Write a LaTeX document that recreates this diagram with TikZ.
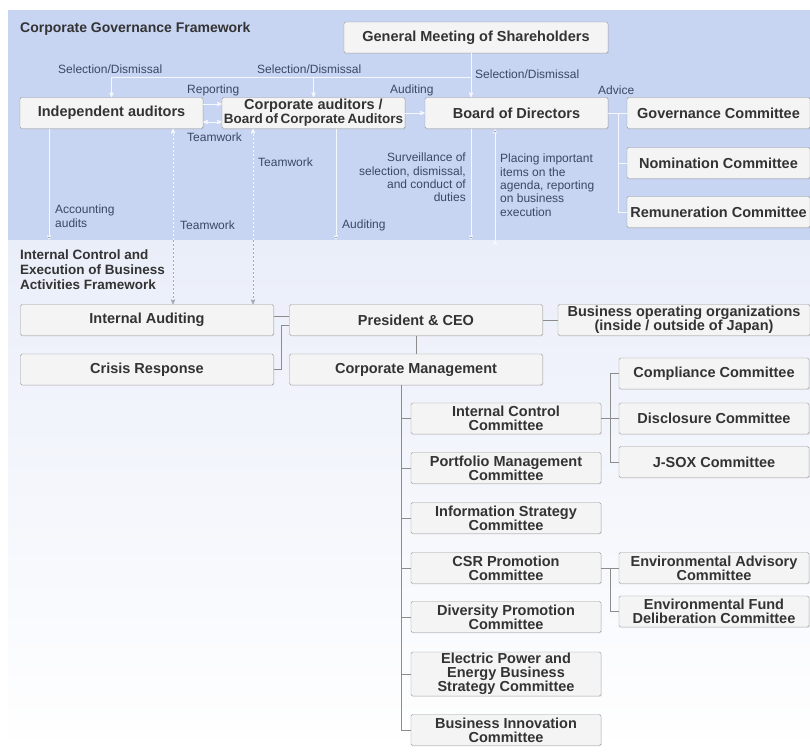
\documentclass[tikz,border=0pt]{standalone}
\usepackage{fontspec}
\setmainfont{Liberation Sans}
\usepackage{tikz}
\usetikzlibrary{positioning,arrows,shadows}

\definecolor{govblue}{HTML}{C7D4F2}
\definecolor{ctrlblue}{HTML}{EAEEF9}
\definecolor{boxfill}{HTML}{F4F4F4}
\definecolor{boxedge}{HTML}{9A9A9A}
\definecolor{boxtext}{HTML}{333333}
\definecolor{lbltext}{HTML}{3A4868}
\definecolor{arrowwhite}{HTML}{F5F8FF}
\definecolor{linkgray}{HTML}{8C8C8C}
\definecolor{dashgray}{HTML}{A4A9B4}

\begin{document}
\begin{tikzpicture}[x=1pt,y=-1pt,>=stealth',
  box/.style={draw=boxedge,fill=boxfill,rounded corners=1.5pt,text=boxtext,
    font=\fontsize{14.5}{14}\selectfont\bfseries,align=center,
    minimum height=31pt,inner sep=1pt,
    drop shadow={opacity=0.18,shadow xshift=0.8pt,shadow yshift=-0.8pt}},
  topbox/.style={box,minimum width=183pt},
  ctrlbox/.style={box,minimum width=253pt},
  cbox/.style={box,minimum width=190pt,font=\fontsize{14.5}{14}\selectfont\bfseries},
  lbl/.style={text=lbltext,font=\fontsize{12}{13.3}\selectfont,inner sep=0pt},
  title/.style={text=boxtext,font=\fontsize{14}{15}\selectfont\bfseries,inner sep=0pt,align=left},
  arrowline/.style={draw=arrowwhite,line width=0.8pt},
  dashline/.style={draw=arrowwhite,line width=0.8pt,dash pattern=on 2pt off 2pt},
  linkline/.style={draw=linkgray,line width=0.6pt}]

    % Backgrounds
    \useasboundingbox (0,0) rectangle (810,753);
    \fill[govblue] (8,10) rectangle (810,240);
    \shade[top color=ctrlblue,bottom color=white] (8,240) rectangle (810,753);

    % Corporate governance framework
    \node [title,anchor=west] at (20,29) (govtitle) {Corporate Governance Framework};
    \node [box,minimum width=264pt] at (476,37.5) (gms) {General Meeting of Shareholders};
    \node [topbox] at (111.5,113) (ind) {Independent auditors};
    \node [topbox] at (313.5,113) (corp) {Corporate auditors /\\{\fontsize{13.5}{12}\selectfont\spaceskip=2.5pt Board of Corporate Auditors}};
    \node [topbox] at (516.5,113) (bod) {Board of Directors};
    \node [topbox] at (718.5,113) (gov) {Governance Committee};
    \node [topbox] at (718.5,163) (nom) {Nomination Committee};
    \node [topbox] at (718.5,212) (rem) {Remuneration Committee};

    % Labels of the governance framework
    \node [lbl,anchor=west] at (58,69) (sel1) {Selection/Dismissal};
    \node [lbl,anchor=west] at (257,69) (sel2) {Selection/Dismissal};
    \node [lbl,anchor=west] at (475,74) (sel3) {Selection/Dismissal};
    \node [lbl,anchor=west] at (187,90) (rep) {Reporting};
    \node [lbl,anchor=west] at (187,137) (tw1lbl) {Teamwork};
    \node [lbl,anchor=west] at (390,90) (audlbl1) {Auditing};
    \node [lbl,anchor=west] at (598,90) (adv) {Advice};
    \node [lbl,anchor=west] at (258,162) (tw2lbl) {Teamwork};
    \node [lbl,anchor=north east,align=right] at (466,153) (survlbl) {Surveillance of\\selection, dismissal,\\and conduct of\\duties};
    \node [lbl,anchor=north west,align=left] at (500,154) (plclbl) {Placing important\\items on the\\agenda, reporting\\on business\\execution};
    \node [lbl,anchor=north west,align=left] at (55,205) (acclbl) {Accounting\\audits};
    \node [lbl,anchor=west] at (180,225) (tw3lbl) {Teamwork};
    \node [lbl,anchor=west] at (342,225) (audlbl2) {Auditing};

    % Internal control framework
    \node [title,anchor=north west,font=\fontsize{13.5}{15}\selectfont\bfseries] at (20,250) (ctrltitle) {Internal Control and\\Execution of Business\\Activities Framework};
    \node [ctrlbox] at (147,320) (ia) {Internal Auditing};
    \node [ctrlbox] at (147,369.5) (cr) {Crisis Response};
    \node [ctrlbox] at (416,320) (pres) {President \& CEO};
    \node [ctrlbox] at (416,369.5) (cm) {Corporate Management};
    \node [ctrlbox,minimum width=252pt,font=\fontsize{14.5}{14}\selectfont\bfseries] at (684,320) (bus) {Business operating organizations\\(inside / outside of Japan)};

    \node [cbox] at (506,418.5) (ic) {Internal Control\\Committee};
    \node [cbox] at (506,468) (pf) {Portfolio Management\\Committee};
    \node [cbox] at (506,518) (is) {Information Strategy\\Committee};
    \node [cbox] at (506,568) (csr) {CSR Promotion\\Committee};
    \node [cbox] at (506,617) (div) {Diversity Promotion\\Committee};
    \node [cbox,minimum height=44pt] at (506,674) (el) {Electric Power and\\Energy Business\\Strategy Committee};
    \node [cbox] at (506,730) (bi) {Business Innovation\\Committee};

    \node [cbox] at (714,373.5) (comp) {Compliance Committee};
    \node [cbox] at (714,418.5) (disc) {Disclosure Committee};
    \node [cbox] at (714,462) (jsox) {J-SOX Committee};
    \node [cbox] at (714,568) (env) {Environmental Advisory\\Committee};
    \node [cbox] at (714,611.5) (fund) {Environmental Fund\\Deliberation Committee};

    % Governance edges
    \coordinate (sx) at (471,77);
    \draw[arrowline,->] (gms.south -| sx) -- (bod.north -| sx);
    \draw[arrowline,->] (sx) -| (ind.north);
    \draw[arrowline,->] (sx -| corp.north) -- (corp.north);
    \draw[arrowline,->] ([yshift=9pt]ind.east) -- ([yshift=9pt]corp.west);
    \draw[arrowline,<->] ([yshift=-9pt]ind.east) -- ([yshift=-9pt]corp.west);
    \draw[arrowline,->] (corp) -- (bod);

    \coordinate (ax) at (618,0);
    \path[arrowline]
    (bod) edge (gov)
    (ax |- nom.west) edge (nom.west);
    \draw[arrowline] (ax |- gov.west) |- (rem.west);

    \coordinate (acc) at (49,240);
    \coordinate (aud) at (336,240);
    \coordinate (surv) at (471,240);
    \coordinate (plc) at (495,240);
    \path[arrowline,->]
    (ind.south -| acc) edge (acc)
    (corp.south -| aud) edge (aud)
    (bod.south -| surv) edge (surv)
    (plc) edge (bod.south -| plc);

    % Teamwork with internal auditing
    \coordinate (tw1) at (173,240);
    \coordinate (tw2) at (253,240);
    \draw[dashline,<->] (ind.south -| tw1) -- (ia.north -| tw1);
    \draw[dashline,<->] (corp.south -| tw2) -- (ia.north -| tw2);
    \draw[dashline,draw=dashgray,->] (tw1) -- (ia.north -| tw1);
    \draw[dashline,draw=dashgray,->] (tw2) -- (ia.north -| tw2);

    % Internal control edges
    \coordinate (cx) at (281,0);
    \coordinate (pw) at ([yshift=-5pt]pres.west);
    \draw[linkline] ([yshift=4pt]ia.east) -- ([yshift=4pt]pres.west);
    \draw[linkline] (cr.east) -| (pw -| cx) -- (pw);
    \path[linkline]
    (pres) edge (cm)
    (pres) edge (bus);

    \coordinate (tx) at (401,0);
    \draw[linkline] (cm.south -| tx) |- (bi.west);
    \foreach \n in {ic,pf,is,csr,div,el}
      \draw[linkline] (tx |- \n.west) -- (\n.west);

    \coordinate (rx) at (610,0);
    \path[linkline]
    (ic) edge (disc)
    (csr) edge (env)
    (rx |- comp.west) edge (comp.west);
    \draw[linkline] (rx |- comp.west) |- (jsox.west);
    \draw[linkline] (rx |- env.west) |- (fund.west);

\end{tikzpicture}
\end{document}
